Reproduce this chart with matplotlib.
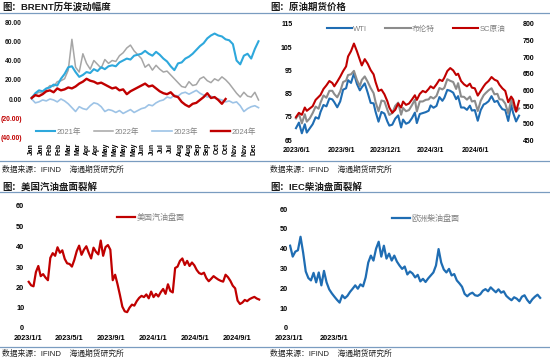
import numpy as np
import pandas as pd
import matplotlib
matplotlib.use('Agg')
import matplotlib.pyplot as plt
import matplotlib.dates as mdates

plt.rcParams['font.family'] = ['Liberation Sans', 'Noto Sans CJK SC', 'DejaVu Sans']
plt.rcParams['axes.unicode_minus'] = False

# ---------------- data ----------------
# BRENT 历年波动幅度 (%), one value every 4 trading days
b2021 = [1, 6, 9, 8, 11, 12, 15, 14, 21, 26, 33, 34, 28, 23, 25, 28, 27, 31, 29, 33,
         31, 34, 35, 34, 38, 40, 42, 41, 45, 46, 47, 50, 47, 45, 49, 46, 42, 39, 34, 30,
         37, 38, 42, 44, 47, 51, 55, 58, 63, 66, 68, 66, 65, 62, 61, 57, 40, 36, 45, 47,
         42, 52, 60]
b2022 = [2, 5, 7, 6, 10, 14, 13, 18, 19, 21, 30, 62, 33, 28, 47, 37, 31, 40, 36, 32,
         41, 37, 40, 39, 45, 48, 53, 56, 50, 46, 42, 33, 36, 30, 35, 31, 28, 29, 25, 21,
         17, 13, 12, 18, 14, 15, 21, 23, 19, 17, 21, 19, 23, 20, 16, 11, 6, 2, 7, 3,
         2, 7, -1]
b2023 = [0, -4, -3, -1, -2, 0, -1, -3, 0, -2, -5, -9, -13, -8, -10, -11, -7, -4, -5, -8,
         -13, -11, -12, -14, -12, -15, -13, -11, -14, -12, -10, -9, -6, -7, -4, -2, -1, 2, 1, 4,
         3, 6, 7, 5, 7, 9, 6, 4, 2, 3, 1, 0, -1, -3, -2, -4, -3, -7, -13, -10,
         -8, -7, -9]
b2024 = [1, 4, 3, 5, 8, 9, 7, 11, 9, 10, 12, 11, 13, 16, 18, 21, 19, 18, 16, 17,
         15, 13, 11, 12, 9, 10, 5, 8, 10, 12, 14, 16, 13, 14, 11, 8, 6, 5, 7, 3,
         2, -3, -6, -8, -5, -4, -1, 2, 6, 1, 2, -1, -5, 0]
year_lbls = ['2021年', '2022年', '2023年', '2024年']
month_lbls = ['Jan', 'Jan', 'Feb', 'Feb', 'Mar', 'Mar', 'Apr', 'Apr', 'May', 'May', 'May', 'May',
              'Jun', 'Jun', 'Jul', 'Jul', 'Aug', 'Aug', 'Sep', 'Sep', 'Oct', 'Oct', 'Nov', 'Nov', 'Dec']

# 原油期货价格, every 4 business days from 2023/6/1
wti = [70.1, 72.5, 67.9, 71.8, 68.2, 70.0, 71.8, 74.8, 74.2, 77.1,
       80.1, 79.5, 82.9, 82.5, 81.3, 79.1, 81.6, 86.7, 87.3, 90.8,
       89.6, 93.7, 89.2, 86.4, 87.7, 89.4, 85.4, 81.0, 80.8, 77.2,
       72.9, 77.1, 76.4, 73.0, 71.2, 71.6, 74.2, 75.6, 70.4, 73.8,
       72.0, 72.6, 74.4, 76.8, 72.3, 76.2, 76.6, 77.0, 77.6, 79.9,
       78.9, 79.7, 83.5, 81.9, 83.2, 86.6, 86.2, 85.4, 82.6, 83.9,
       79.0, 79.0, 78.0, 79.8, 77.7, 77.9, 73.3, 77.9, 80.3, 80.7,
       81.7, 83.9, 81.4, 81.9, 80.1, 78.3, 77.9, 73.2, 80.1, 76.7,
       73.0, 75.5]
brent = [74.3, 76.3, 72.2, 76.1, 72.9, 74.3, 76.6, 79.4, 78.5, 81.1,
         84.2, 83.2, 86.2, 86.2, 84.8, 83.4, 85.9, 90.0, 90.6, 93.0,
         93.3, 94.8, 90.9, 88.2, 90.9, 92.4, 90.1, 87.4, 85.2, 81.4,
         77.4, 82.0, 81.7, 78.0, 75.8, 76.6, 79.7, 81.1, 75.9, 78.8,
         77.4, 77.9, 80.0, 82.4, 77.3, 81.6, 81.6, 82.3, 82.5, 83.6,
         82.9, 84.0, 87.4, 86.8, 87.5, 91.2, 90.5, 90.0, 87.0, 89.5,
         83.7, 83.6, 82.4, 83.7, 81.6, 81.9, 77.5, 81.9, 84.3, 85.2,
         86.4, 87.3, 84.7, 84.9, 82.6, 82.4, 80.7, 76.5, 82.3, 79.7,
         77.2, 78.6]
sc = [519, 532, 526, 548, 538, 545, 552, 571, 580, 586,
      604, 615, 628, 622, 612, 626, 641, 658, 672, 702,
      718, 741, 718, 692, 675, 694, 680, 661, 648, 625,
      598, 602, 588, 567, 548, 532, 541, 560, 548, 566,
      556, 560, 572, 585, 571, 589, 598, 594, 604, 612,
      606, 618, 632, 628, 638, 658, 667, 660, 646, 650,
      628, 618, 612, 620, 608, 606, 584, 598, 612, 620,
      628, 640, 632, 628, 617, 606, 598, 564, 581, 572,
      536, 568]
oil_ticks = ['2023/6/1', '2023/9/1', '2023/12/1', '2024/3/1', '2024/6/1']

# 汽油 / 柴油盘面裂解, weekly from 2023/1/3
gasoline = [22.7, 21.0, 20.5, 27.5, 30.5, 25.5, 26.5, 24.8, 23.5, 34.5,
            36.8, 35.5, 39.7, 37.0, 38.2, 34.0, 31.8, 31.5, 30.2, 33.5,
            37.8, 40.5, 36.0, 38.5, 40.2, 37.0, 34.2, 39.5, 37.5, 36.2,
            43.0, 35.5, 39.8, 40.8, 38.5, 23.5, 26.2, 21.5, 16.2, 10.5,
            8.2, 7.8, 10.0, 11.5, 11.0, 13.2, 14.8, 15.8, 15.2, 16.5,
            14.6, 17.9, 15.2, 16.8, 15.5, 17.6, 19.2, 16.8, 21.5, 18.2,
            17.5, 29.5, 30.2, 33.0, 34.2, 31.0, 33.0, 30.5, 32.2, 30.8,
            28.5, 27.0, 26.5, 27.2, 24.5, 23.0, 24.2, 25.5, 24.6, 23.8,
            23.2, 22.8, 26.2, 25.0, 23.2, 20.8, 19.5, 13.5, 11.8, 12.5,
            13.8, 13.2, 14.2, 14.8, 15.3, 14.5, 14.0]
diesel = [41.5, 36.0, 38.5, 39.2, 46.0, 38.0, 28.5, 25.2, 24.0, 27.8,
          23.0, 28.0, 21.5, 28.8, 23.0, 19.5, 17.5, 15.8, 14.2, 12.8,
          16.5, 15.0, 16.2, 18.2, 19.8, 21.5, 19.8, 22.0, 21.0, 25.5,
          33.0, 36.5, 34.0, 40.0, 43.5, 36.0, 41.5, 35.0, 37.5, 34.0,
          36.5, 33.5, 31.5, 29.8, 31.0, 27.0, 28.5, 27.5, 25.5, 26.8,
          23.5, 24.8, 23.2, 25.0, 26.5, 28.0, 31.5, 39.8, 33.0, 29.5,
          28.0, 29.8, 26.5, 27.2, 24.0, 22.5, 20.8, 17.2, 16.0, 17.2,
          17.8, 16.5, 16.2, 17.0, 18.8, 19.6, 18.5, 20.5, 19.2, 18.0,
          19.5, 17.8, 18.5, 16.2, 15.0, 14.0, 15.5, 14.8, 13.5, 15.8,
          16.5, 14.2, 12.6, 14.5, 15.8, 16.8, 15.2]
crack_ticks = ['2023/1/1', '2023/5/1', '2023/9/1', '2024/1/1', '2024/5/1', '2024/9/1']

# ---------------- figure ----------------
W, H = 550, 361
fig = plt.figure(figsize=(W / 100, H / 100), dpi=100)
fig.patch.set_facecolor('white')

RED = '#C00000'
BLUE = '#1F6DB3'
LEGEND_TXT = '#808080'
RULE = '#7A9CC0'


def px_axes(l, t, r, b):
    # pixel box -> figure fraction
    return fig.add_axes([l / W, 1 - b / H, (r - l) / W, (b - t) / H])


def clean(ax):
    for s in ax.spines.values():
        s.set_visible(False)
    ax.tick_params(length=0)
    ax.set_facecolor('none')


def bold_ticks(ax, size):
    for t in ax.get_xticklabels() + ax.get_yticklabels():
        t.set_fontsize(size)
        t.set_fontweight('bold')


# headers, footers and rules
for x0, y0, title in [(2, 7, '图：BRENT历年波动幅度'), (270, 7, '图：原油期货价格'),
                      (2, 187, '图：美国汽油盘面裂解'), (270, 187, '图：IEC柴油盘面裂解')]:
    fig.text(x0 / W, 1 - y0 / H, title, fontsize=6.8, fontweight='bold',
             color='#1a1a1a', va='center', ha='left')
for x0, y0 in [(2, 170), (270, 170), (2, 354), (270, 354)]:
    fig.text(x0 / W, 1 - y0 / H, '数据来源：IFIND    海通期货研究所', fontsize=5.6,
             color='#222222', va='center', ha='left')
for y0 in [13, 161, 192, 347]:
    fig.add_artist(plt.Line2D([0, 1], [1 - y0 / H, 1 - y0 / H], color=RULE, lw=0.9))

# ---- panel 1: BRENT ----
ax1 = px_axes(28, 22, 264, 137.5)
clean(ax1)
days = lambda s: np.arange(len(s)) * 4
ax1.plot(days(b2021), b2021, color='#2EA8DC', lw=1.5, label=year_lbls[0], zorder=4)
ax1.plot(days(b2022), b2022, color='#A6A6A6', lw=1.1, label=year_lbls[1], zorder=2)
ax1.plot(days(b2023), b2023, color='#9DC3E6', lw=1.2, label=year_lbls[2], zorder=3)
ax1.plot(days(b2024), b2024, color=RED, lw=1.7, label=year_lbls[3], zorder=5)
ax1.set_xlim(-4, 254)
ax1.set_ylim(-40, 80)
yt = [-40, -20, 0, 20, 40, 60, 80]
ax1.set_yticks(yt)
ax1.set_yticklabels(['(%.2f)' % -v if v < 0 else '%.2f' % v for v in yt])
for t, v in zip(ax1.get_yticklabels(), yt):
    t.set_color(RED if v < 0 else '#1a1a1a')
ax1.set_xticks(np.linspace(0, 243, len(month_lbls)))
ax1.set_xticklabels(month_lbls, rotation=90, va='top', ha='center')
ax1.tick_params(axis='y', pad=4.3)
ax1.tick_params(axis='x', pad=4)
bold_ticks(ax1, 4.9)
ax1.legend(loc='center', bbox_to_anchor=(0.5, 0.05), ncol=4, frameon=False, fontsize=5.5,
           labelcolor=LEGEND_TXT, handlelength=2.5, handletextpad=0.2, columnspacing=1.7)

# ---- panel 2: crude futures ----
oil_dates = pd.bdate_range('2023-06-01', periods=len(wti), freq='4B')
ax2 = px_axes(294, 24, 521, 140)
clean(ax2)
l1, = ax2.plot(oil_dates, wti, color=BLUE, lw=1.5, label='WTI')
l2, = ax2.plot(oil_dates, brent, color='#8C8C8C', lw=1.5, label='布伦特')
ax2.set_ylim(65, 115)
ax2.set_yticks(range(65, 116, 10))
ax2.set_xlim(pd.Timestamp('2023-05-28'), pd.Timestamp('2024-09-01'))
ax2.set_xticks(pd.to_datetime(oil_ticks))
ax2.set_xticklabels(oil_ticks)
ax2.tick_params(axis='y', pad=1)
ax2.tick_params(axis='x', pad=4.7)
bold_ticks(ax2, 5)
ax2r = ax2.twinx()
clean(ax2r)
l3, = ax2r.plot(oil_dates, sc, color=RED, lw=1.5, label='SC原油')
ax2r.set_ylim(450, 800)
ax2r.set_yticks(range(450, 801, 50))
ax2r.tick_params(axis='y', pad=1.5)
bold_ticks(ax2r, 5)
ax2.legend(handles=[l1, l2, l3], loc='center', bbox_to_anchor=(0.537, 0.957), ncol=3,
           frameon=False, fontsize=5.5, labelcolor=LEGEND_TXT, handlelength=3.3,
           handletextpad=0.15, columnspacing=2.4)

# ---- panel 3: gasoline crack ----
crack_dates = pd.date_range('2023-01-03', periods=len(gasoline), freq='7D')
ax3 = px_axes(27, 206, 265, 328)
clean(ax3)
ax3.plot(crack_dates, gasoline, color=RED, lw=1.6, label='美国汽油盘面')
ax3.set_ylim(0, 60)
ax3.set_yticks(range(0, 61, 10))
ax3.set_xlim(pd.Timestamp('2022-12-29'), pd.Timestamp('2024-11-22'))
ax3.set_xticks(pd.to_datetime(crack_ticks))
ax3.set_xticklabels(crack_ticks)
ax3.tick_params(axis='y', pad=2)
ax3.tick_params(axis='x', pad=5.2)
bold_ticks(ax3, 5.3)
ax3.legend(loc='center', bbox_to_anchor=(0.52, 0.90), frameon=False, fontsize=5.8,
           labelcolor=LEGEND_TXT, handlelength=2.2, handletextpad=0.2)

# ---- panel 4: diesel crack ----
ax4 = px_axes(289, 209, 545, 328)
clean(ax4)
ax4.plot(crack_dates, diesel, color=BLUE, lw=1.6, label='欧洲柴油盘面')
ax4.set_ylim(0, 60)
ax4.set_yticks(range(0, 61, 10))
ax4.set_xlim(pd.Timestamp('2022-12-31'), pd.Timestamp('2024-11-18'))
ax4.set_xticks(pd.to_datetime(crack_ticks[:2]))
ax4.set_xticklabels(crack_ticks[:2])
ax4.tick_params(axis='y', pad=1)
ax4.tick_params(axis='x', pad=5.2)
bold_ticks(ax4, 5.3)
ax4.legend(loc='center', bbox_to_anchor=(0.535, 0.92), frameon=False, fontsize=5.8,
           labelcolor=LEGEND_TXT, handlelength=2.2, handletextpad=0.2)

fig.savefig('out.png', dpi=100)
